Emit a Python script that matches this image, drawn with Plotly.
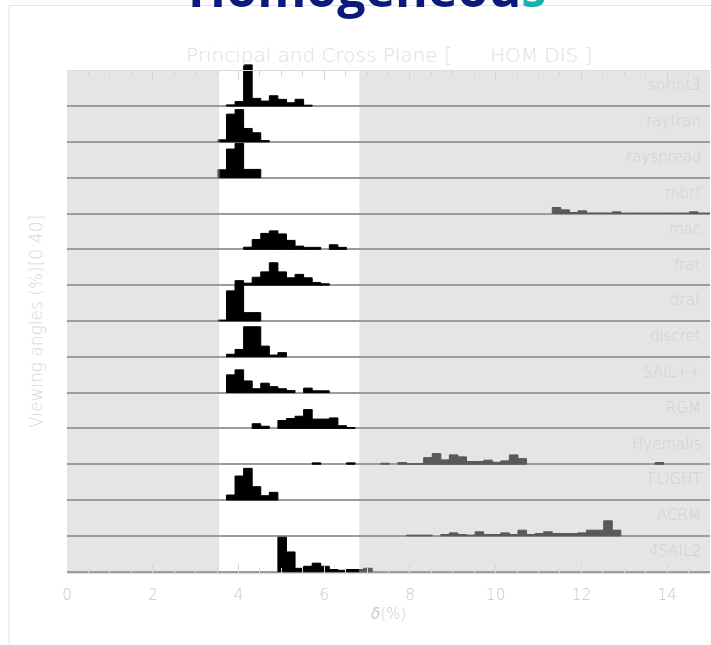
import plotly.graph_objects as go

# ---------------- data ----------------
MODELS = ["sprint3", "raytran", "rayspread", "mbrf", "mac", "frat", "drat",
          "discret", "SAIL++", "RGM", "Hyemalis", "FLIGHT", "ACRM", "4SAIL2"]

# histogram bins: first bin starts at BIN_START, width BIN_WIDTH (delta %)
BIN_START = 3.52
BIN_WIDTH = 0.2

# first bin index of each histogram, and the percentages (viewing angles, %)
sprint3_start = 1
sprint3 = [1.3, 5.0, 46.0, 8.6, 5.6, 11.5, 7.5, 3.7, 7.6, 1.0]
raytran_start = 0
raytran = [2.3, 31.0, 36.0, 15.0, 10.2, 1.4]
rayspread_start = 0
rayspread = [8.8, 32.0, 38.3, 9.3, 9.3]
mbrf_start = 39
mbrf = [6.7, 4.1, 1.1, 3.0, 0.6, 0.6, 0.6, 1.9, 0.5, 0.5, 0.5, 0.5, 0.5,
        0.5, 0.5, 0.5, 1.9, 0.5, 0.5]
mac_start = 3
mac = [2.4, 11.0, 17.8, 20.6, 17.2, 10.0, 3.6, 2.2, 2.2, 0.0, 5.1, 2.2]
frat_start = 3
frat = [2.2, 8.8, 14.8, 25.0, 14.8, 8.2, 12.0, 8.2, 3.0, 1.5]
drat_start = 0
drat = [1.0, 33.6, 45.0, 9.3, 9.3]
discret_start = 1
discret = [2.8, 8.2, 33.5, 33.5, 11.9, 1.9, 4.6]
sailpp_start = 1
sailpp = [19.8, 25.4, 13.0, 4.3, 10.5, 6.6, 4.3, 2.2, 0.0, 5.0, 2.0, 2.0]
rgm_start = 4
rgm = [5.2, 2.4, 0.0, 8.8, 11.0, 13.6, 21.0, 10.4, 10.4, 11.7, 3.0, 1.0]
hyemalis_start = 11
hyemalis = [1.5, 0.0, 0.0, 0.0, 1.5, 0.0, 0.0, 0.0, 1.1, 0.0, 1.9, 0.5, 0.5,
            7.4, 11.9, 4.8, 10.4, 8.2, 3.0, 3.0, 4.5, 2.2, 3.7, 10.4, 6.3,
            0.0, 0.0, 0.0, 0.0, 0.0, 0.0, 0.0, 0.0, 0.0, 0.0, 0.0, 0.0, 0.0,
            0.0, 0.0, 1.9]
flight_start = 1
flight = [5.6, 26.8, 35.4, 14.9, 4.8, 8.6]
acrm_start = 22
acrm = [0.8, 0.8, 0.8, 0.0, 1.5, 3.3, 1.5, 0.8, 4.5, 1.5, 1.5, 3.3, 1.5,
        6.3, 1.5, 2.6, 4.5, 2.6, 2.6, 2.6, 3.3, 6.3, 6.3, 16.8, 6.3]
sail2_start = 7
sail2 = [38.5, 22.0, 3.7, 6.0, 9.5, 6.0, 2.4, 1.5, 2.4, 2.4, 3.8]

SERIES = [(sprint3_start, sprint3), (raytran_start, raytran),
          (rayspread_start, rayspread), (mbrf_start, mbrf), (mac_start, mac),
          (frat_start, frat), (drat_start, drat), (discret_start, discret),
          (sailpp_start, sailpp), (rgm_start, rgm),
          (hyemalis_start, hyemalis), (flight_start, flight),
          (acrm_start, acrm), (sail2_start, sail2)]

WHITE_LO, WHITE_HI = 3.55, 6.82      # unshaded delta interval
X_MAX = 15
PANEL = 40                            # each panel spans 0..40 %
Y_HEADROOM = 7                        # room above top panel for tall bars
X_TICKS = [0, 2, 4, 6, 8, 10, 12, 14]

# ---------------- build bars ----------------
n = len(MODELS)
blk = dict(x=[], w=[], y=[], b=[])
gry = dict(x=[], w=[], y=[], b=[])


def add(store, a, c, v, base):
    if c - a > 1e-9:
        store["x"].append((a + c) / 2)
        store["w"].append(c - a)
        store["y"].append(v)
        store["b"].append(base)


for i, (start, vals) in enumerate(SERIES):
    base = (n - 1 - i) * PANEL
    for j, v in enumerate(vals):
        if v <= 0:
            continue
        e0 = BIN_START + (start + j) * BIN_WIDTH
        e1 = e0 + BIN_WIDTH
        add(blk, max(e0, WHITE_LO), min(e1, WHITE_HI), v, base)
        add(gry, e0, min(e1, WHITE_LO), v, base)
        add(gry, max(e0, WHITE_HI), e1, v, base)

fig = go.Figure()
fig.add_trace(go.Bar(x=blk["x"], y=blk["y"], base=blk["b"], width=blk["w"],
                     marker=dict(color="#000000",
                                 line=dict(color="#000000", width=1)),
                     hoverinfo="skip", showlegend=False))
fig.add_trace(go.Bar(x=gry["x"], y=gry["y"], base=gry["b"], width=gry["w"],
                     marker=dict(color="#595959",
                                 line=dict(color="#595959", width=1)),
                     xaxis="x2", hoverinfo="skip", showlegend=False))

LIGHT = "#cccccc"
FONT = "DejaVu Sans, sans-serif"
Y_LO = -1.5
Y_TOP = n * PANEL
Y_HI = Y_TOP + Y_HEADROOM

fig.update_layout(
    width=711, height=645,
    margin=dict(l=67, r=1, t=64, b=72),
    paper_bgcolor="white",
    plot_bgcolor="white",
    barmode="overlay",
    showlegend=False,
    font=dict(family=FONT, color=LIGHT, weight=200),
)

tick_common = dict(
    range=[0, X_MAX], tickvals=X_TICKS,
    ticks="inside", ticklen=9, tickcolor="#d6d6d6", tickwidth=1,
    minor=dict(dtick=0.5, ticks="inside", ticklen=5, tickcolor="#d6d6d6",
               showgrid=False),
    showline=True, linecolor="#dcdcdc", linewidth=1,
    showgrid=False, zeroline=False,
)
fig.update_layout(
    xaxis=dict(**tick_common, ticktext=[str(t) for t in X_TICKS],
               tickfont=dict(size=15, color="#c8c8c8", family=FONT, weight=200),
               ticklabelstandoff=8),
    xaxis2=dict(**tick_common, overlaying="x", matches="x", side="top",
                anchor="free",
                position=(Y_TOP - Y_LO) / (Y_HI - Y_LO),
                showticklabels=False),
    yaxis=dict(range=[Y_LO, Y_HI], tickvals=[k * PANEL for k in range(n)],
               showticklabels=False, ticks="", showgrid=True,
               gridcolor="#9c9c9c", gridwidth=1.5, zeroline=False,
               showline=False),
)

# shaded bands (outside the unshaded interval)
for x0, x1 in ((0, WHITE_LO), (WHITE_HI, X_MAX)):
    fig.add_shape(type="rect", xref="x", yref="y", x0=x0, x1=x1,
                  y0=Y_LO, y1=Y_TOP, fillcolor="#e5e5e5", line_width=0,
                  layer="below")
# outer card border
fig.add_shape(type="rect", xref="paper", yref="paper", x0=-0.0902, x1=1.05,
              y0=-0.2, y1=1.115, line=dict(color="#e2e2e2", width=1),
              fillcolor="rgba(0,0,0,0)", layer="below")

# panel labels
for i, name in enumerate(MODELS):
    fig.add_annotation(text=name, xref="paper", x=1, xshift=-7, xanchor="right",
                       yref="y", y=(n - 1 - i) * PANEL + 23, yanchor="middle",
                       showarrow=False,
                       font=dict(size=15, color="#d0d0d0", family=FONT,
                                 weight=200))


def py(pixel_y):
    """paper y of a pixel row (plot area spans rows 64..573)"""
    return (573 - pixel_y) / (573 - 64)


# titles
fig.add_annotation(text='Homogeneou<span style="color:#17b1ae">s</span>',
                   xref="paper", x=0.4666, xanchor="center",
                   yref="paper", y=py(24), yanchor="bottom", showarrow=False,
                   font=dict(size=50, color="#0c1a7c", family="Open Sans",
                             weight="bold"))
fig.add_annotation(text="Principal and Cross Plane [\u00a0\u00a0\u00a0\u00a0\u00a0 HOM DIS ]",
                   xref="paper", x=0.5, xanchor="center",
                   yref="paper", y=py(55), yanchor="middle", showarrow=False,
                   font=dict(size=20, color="#e0e0e0", family=FONT, weight=200))
fig.add_annotation(text="<i>δ</i>(%)", xref="paper", x=0.5, xanchor="center",
                   yref="paper", y=py(614), yanchor="middle", showarrow=False,
                   font=dict(size=15, color=LIGHT, family=FONT, weight=200))
fig.add_annotation(text="Viewing angles (%)[0:40]", xref="paper", x=-0.0482,
                   xanchor="center", yref="paper", y=py(322), yanchor="middle",
                   textangle=-90, showarrow=False,
                   font=dict(size=17, color="#d8d8d8", family=FONT, weight=200))

fig.write_html("out.html", config={"displayModeBar": False},
               post_script="document.body.style.margin='0';"
                           "document.body.style.overflow='hidden';")
